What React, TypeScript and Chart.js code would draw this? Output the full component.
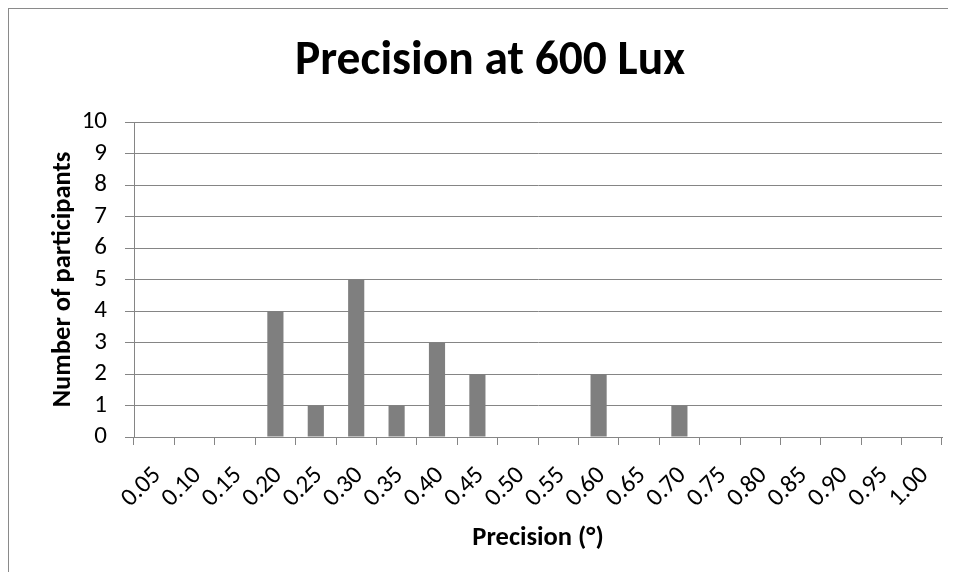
import React, { useEffect, useRef } from "react";
import { Chart, registerables } from "chart.js";

Chart.register(...registerables);

const TITLE = "Precision at 600 Lux";
const X_TITLE = "Precision (°)";
const Y_TITLE = "Number of participants";
const categories = [
  "0.05", "0.10", "0.15", "0.20", "0.25", "0.30", "0.35", "0.40", "0.45", "0.50",
  "0.55", "0.60", "0.65", "0.70", "0.75", "0.80", "0.85", "0.90", "0.95", "1.00",
];
const participants = [0, 0, 0, 4, 1, 5, 1, 3, 2, 0, 0, 2, 0, 1, 0, 0, 0, 0, 0, 0];
const yMin = 0;
const yMax = 10;
const yStep = 1;

const FONT = "Carlito, Lato, 'Liberation Sans', sans-serif";
const GRID = "#858585";

export default function App() {
  const ref = useRef<HTMLCanvasElement | null>(null);

  useEffect(() => {
    if (!ref.current) return;
    const chart = new Chart(ref.current, {
      type: "bar",
      data: {
        labels: categories,
        datasets: [
          {
            data: participants,
            backgroundColor: "#7f7f7f",
            borderWidth: 0,
            categoryPercentage: 1,
            barPercentage: 0.4,
          },
        ],
      },
      options: {
        animation: false,
        responsive: false,
        maintainAspectRatio: false,
        layout: { padding: { top: 0, left: 29, right: 14, bottom: 0 } },
        plugins: {
          legend: { display: false },
          tooltip: { enabled: false },
          title: {
            display: true,
            text: TITLE,
            color: "#000",
            font: { family: FONT, size: 47.5, weight: "bold", lineHeight: 1.2 },
            padding: { top: 25, bottom: 31 },
          },
        },
        scales: {
          x: {
            offset: true,
            afterFit: (s: any) => {
              s.height = 143;
              s.paddingLeft = 0;
              s.paddingRight = 0;
            },
            grid: {
              display: true,
              drawOnChartArea: false,
              drawTicks: true,
              tickLength: 8,
              offset: true,
              color: GRID,
              lineWidth: 1,
            },
            border: { display: true, color: GRID, width: 1 },
            ticks: {
              minRotation: 45,
              maxRotation: 45,
              autoSkip: false,
              padding: 16,
              labelOffset: 3,
              color: "#000",
              font: { family: FONT, size: 25 },
            },
            title: {
              display: true,
              text: X_TITLE,
              color: "#000",
              font: { family: FONT, size: 26.5, weight: "bold", lineHeight: 1.2 },
              padding: { top: 0, bottom: 26 },
            },
          },
          y: {
            min: yMin,
            max: yMax,
            afterFit: (s: any) => {
              s.width = 96;
            },
            grid: {
              color: GRID,
              lineWidth: 1,
              drawTicks: true,
              tickLength: 9,
            },
            border: { display: true, color: GRID, width: 1 },
            ticks: {
              stepSize: yStep,
              autoSkip: false,
              padding: 18,
              color: "#000",
              font: { family: FONT, size: 25 },
            },
            title: {
              display: true,
              text: Y_TITLE,
              color: "#000",
              font: { family: FONT, size: 26.5, weight: "bold", lineHeight: 1.2 },
              padding: { top: 9, bottom: 0 },
            },
          },
        },
      },
    });
    return () => chart.destroy();
  }, []);

  return (
    <div
      style={{
        width: 947,
        height: 571,
        borderLeft: "1px solid #8a8a8a",
        borderTop: "1px solid #8a8a8a",
        marginBottom: -8,
        background: "#fff",
        overflow: "hidden",
      }}
    >
      <canvas ref={ref} width={947} height={571} style={{ display: "block" }} />
    </div>
  );
}
